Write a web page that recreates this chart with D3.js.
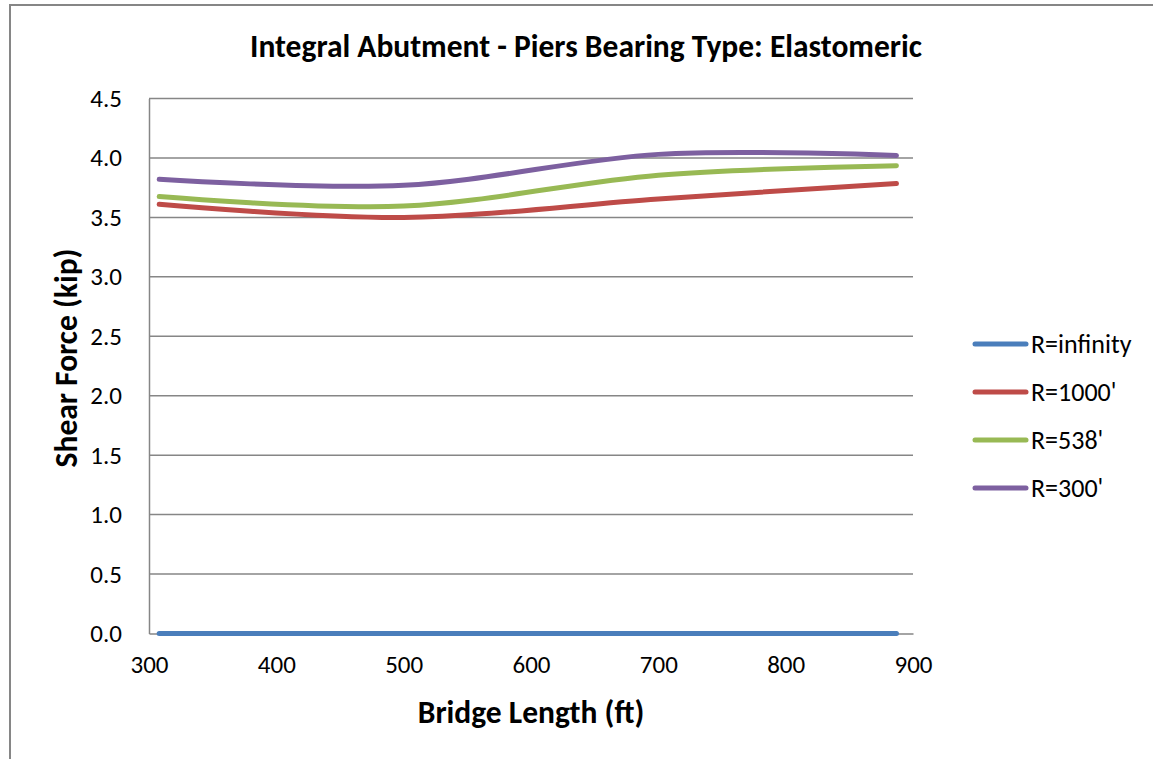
<!DOCTYPE html>
<html>
<head>
<meta charset="utf-8">
<script src="https://cdn.jsdelivr.net/npm/d3@7"></script>
<style>
  body { margin: 0; background: #fff; }
  text { font-family: Carlito, Lato, "Open Sans", sans-serif; fill: #000; }
</style>
</head>
<body>
<div id="chart"></div>
<script>
// chart size
var w = 1153;
var h = 759;

// data
var bridgeLength = [308, 500, 700, 887];
var seriesNames = ["R=infinity", "R=1000'", "R=538'", "R=300'"];
var rInfinity = [0, 0, 0, 0];
var r1000 = [3.61, 3.50, 3.655, 3.785];
var r538 = [3.675, 3.595, 3.855, 3.935];
var r300 = [3.82, 3.77, 4.03, 4.02];
var xTicks = [300, 400, 500, 600, 700, 800, 900];
var yTicks = [0, 0.5, 1, 1.5, 2, 2.5, 3, 3.5, 4, 4.5];
var colors = ["#4A7EBB", "#BE4B48", "#98B954", "#7D60A0"];

var allSeries = [rInfinity, r1000, r538, r300].map(function (vals, i) {
  return {
    name: seriesNames[i],
    color: colors[i],
    points: vals.map(function (v, j) { return [bridgeLength[j], v]; })
  };
});

var svg = d3.select("#chart")
  .append("svg")
  .attr("width", w)
  .attr("height", h);

// outer chart border (cut off on right and bottom in the original)
svg.append("rect")
  .attr("x", 10).attr("y", 5)
  .attr("width", w + 20).attr("height", h + 20)
  .attr("fill", "none")
  .attr("stroke", "#868686")
  .attr("stroke-width", 2);

// scales
var x = d3.scaleLinear().domain([300, 900]).range([149, 913]);
var y = d3.scaleLinear().domain([0, 4.5]).range([633.5, 98.5]);

// gridlines
svg.append("g")
  .selectAll("line")
  .data(yTicks.slice(1))
  .enter().append("line")
  .attr("x1", x(300)).attr("x2", x(900))
  .attr("y1", function (d) { return y(d); })
  .attr("y2", function (d) { return y(d); })
  .attr("stroke", "#868686")
  .attr("stroke-width", 1.5);

// y axis
var yAxis = svg.append("g")
  .attr("transform", "translate(" + x(300) + ",0)")
  .call(d3.axisLeft(y).tickValues(yTicks).tickSize(0).tickPadding(27)
    .tickFormat(d3.format(".1f")));
yAxis.select(".domain").attr("stroke", "#868686").attr("stroke-width", 1.5);
yAxis.selectAll("text").attr("font-size", "25px").attr("font-family", "Carlito, Lato, sans-serif");

// x axis
var xAxis = svg.append("g")
  .attr("transform", "translate(0," + y(0) + ")")
  .call(d3.axisBottom(x).tickValues(xTicks).tickSize(0).tickPadding(22));
xAxis.select(".domain").attr("stroke", "#868686").attr("stroke-width", 1.5);
xAxis.selectAll("text").attr("font-size", "25px").attr("font-family", "Carlito, Lato, sans-serif");

// lines (Excel style smoothing)
var line = d3.line()
  .x(function (d) { return x(d[0]); })
  .y(function (d) { return y(d[1]); })
  .curve(d3.curveCatmullRom.alpha(0));

svg.append("g")
  .selectAll("path")
  .data(allSeries)
  .enter().append("path")
  .attr("d", function (d) { return line(d.points); })
  .attr("fill", "none")
  .attr("stroke", function (d) { return d.color; })
  .attr("stroke-width", 5)
  .attr("stroke-linecap", "round");

// title
svg.append("text")
  .attr("x", 586).attr("y", 57)
  .attr("text-anchor", "middle")
  .attr("font-size", "31.5px")
  .attr("font-weight", "bold")
  .text("Integral Abutment - Piers Bearing Type: Elastomeric");

// axis titles
svg.append("text")
  .attr("x", 531).attr("y", 723)
  .attr("text-anchor", "middle")
  .attr("font-size", "31.5px")
  .attr("font-weight", "bold")
  .text("Bridge Length (ft)");

svg.append("text")
  .attr("transform", "translate(77,358) rotate(-90)")
  .attr("text-anchor", "middle")
  .attr("font-size", "31.5px")
  .attr("font-weight", "bold")
  .text("Shear Force (kip)");

// legend
var legend = svg.append("g")
  .selectAll("g")
  .data(allSeries)
  .enter().append("g")
  .attr("transform", function (d, i) { return "translate(0," + (344 + i * 48) + ")"; });

legend.append("line")
  .attr("x1", 975).attr("x2", 1026)
  .attr("y1", 0).attr("y2", 0)
  .attr("stroke", function (d) { return d.color; })
  .attr("stroke-width", 5)
  .attr("stroke-linecap", "round");

legend.append("text")
  .attr("x", 1031).attr("y", 9)
  .attr("font-size", "26px")
  .text(function (d) { return d.name; });
</script>
</body>
</html>
